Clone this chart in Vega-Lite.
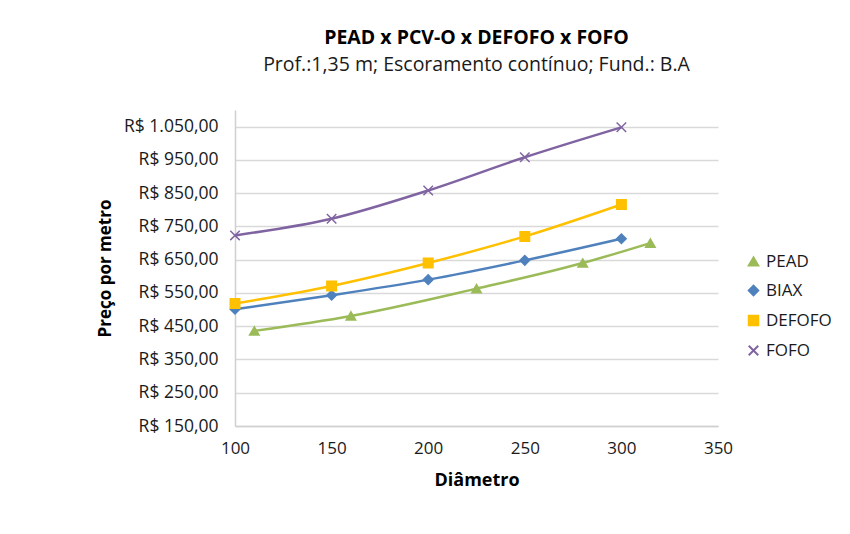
{
  "$schema": "https://vega.github.io/schema/vega-lite/v6.json",
  "autosize": {"type": "none"},
  "padding": {"left": 235, "top": 110, "right": 132, "bottom": 108},
  "width": 483,
  "height": 316,
  "background": "white",
  "config": {
    "font": "Open Sans",
    "locale": {
      "number": {"decimal": ",", "thousands": ".", "grouping": [3], "currency": ["R$ ", ""]}
    },
    "view": {"stroke": null}
  },
  "title": {
    "text": "PEAD x PCV-O x DEFOFO x FOFO",
    "subtitle": "Prof.:1,35 m; Escoramento contínuo; Fund.: B.A",
    "fontSize": 19.5,
    "fontWeight": "bold",
    "color": "#000000",
    "subtitleFontSize": 19.5,
    "subtitleColor": "#1a1a1a",
    "subtitlePadding": 7,
    "anchor": "middle",
    "offset": 35
  },
  "data": {
    "values": [
      {"serie": "PEAD", "d": 110, "preco": 436},
      {"serie": "PEAD", "d": 160, "preco": 481},
      {"serie": "PEAD", "d": 225, "preco": 563},
      {"serie": "PEAD", "d": 280, "preco": 640},
      {"serie": "PEAD", "d": 315, "preco": 700},
      {"serie": "BIAX", "d": 100, "preco": 501},
      {"serie": "BIAX", "d": 150, "preco": 543},
      {"serie": "BIAX", "d": 200, "preco": 590},
      {"serie": "BIAX", "d": 250, "preco": 648},
      {"serie": "BIAX", "d": 300, "preco": 713},
      {"serie": "DEFOFO", "d": 100, "preco": 518},
      {"serie": "DEFOFO", "d": 150, "preco": 571},
      {"serie": "DEFOFO", "d": 200, "preco": 640},
      {"serie": "DEFOFO", "d": 250, "preco": 720},
      {"serie": "DEFOFO", "d": 300, "preco": 816},
      {"serie": "FOFO", "d": 100, "preco": 723},
      {"serie": "FOFO", "d": 150, "preco": 773},
      {"serie": "FOFO", "d": 200, "preco": 858},
      {"serie": "FOFO", "d": 250, "preco": 958},
      {"serie": "FOFO", "d": 300, "preco": 1048}
    ]
  },
  "encoding": {
    "x": {
      "field": "d",
      "type": "quantitative",
      "scale": {"domain": [100, 350], "nice": false},
      "axis": {
        "title": "Diâmetro",
        "titleFontSize": 18,
        "titleFontWeight": "bold",
        "titleColor": "#000000",
        "titlePadding": 15,
        "values": [100, 150, 200, 250, 300, 350],
        "labelFontSize": 17,
        "labelColor": "#1a1a1a",
        "labelPadding": 14,
        "labelFlush": false,
        "ticks": false,
        "grid": false,
        "domainColor": "#d0d0d0",
        "domainWidth": 1.5
      }
    },
    "y": {
      "field": "preco",
      "type": "quantitative",
      "scale": {"domain": [150, 1100], "nice": false, "zero": false},
      "axis": {
        "title": "Preço por metro",
        "titleFontSize": 17,
        "titleFontWeight": "bold",
        "titleColor": "#000000",
        "titlePadding": 9,
        "values": [150, 250, 350, 450, 550, 650, 750, 850, 950, 1050],
        "format": "$,.2f",
        "labelFontSize": 17.5,
        "labelColor": "#1a1a1a",
        "labelPadding": 17,
        "ticks": false,
        "grid": true,
        "gridColor": "#d9d9d9",
        "gridWidth": 1.5,
        "domainColor": "#d0d0d0",
        "domainWidth": 1.5
      }
    },
    "color": {
      "field": "serie",
      "type": "nominal",
      "sort": ["PEAD", "BIAX", "DEFOFO", "FOFO"],
      "scale": {
        "domain": ["PEAD", "BIAX", "DEFOFO", "FOFO"],
        "range": ["#9BBB59", "#4F81BD", "#FFC000", "#8064A2"]
      },
      "legend": {
        "title": null,
        "orient": "none",
        "legendX": 510,
        "legendY": 143,
        "labelFontSize": 17,
        "labelColor": "#1a1a1a",
        "rowPadding": 11,
        "symbolSize": 90,
        "symbolStrokeWidth": 2
      }
    }
  },
  "layer": [
    {
      "mark": {"type": "line", "interpolate": "monotone", "strokeWidth": 2.5}
    },
    {
      "mark": {"type": "point", "filled": true, "size": 90, "opacity": 1, "strokeWidth": 1.5},
      "encoding": {
        "shape": {
          "field": "serie",
          "type": "nominal",
          "sort": ["PEAD", "BIAX", "DEFOFO", "FOFO"],
          "scale": {
            "domain": ["PEAD", "BIAX", "DEFOFO", "FOFO"],
            "range": ["triangle-up", "diamond", "square", "M-1,-1L1,1M-1,1L1,-1"]
          },
          "legend": {
            "title": null,
            "orient": "none",
            "legendX": 510,
            "legendY": 143,
            "labelFontSize": 17,
            "labelColor": "#1a1a1a",
            "rowPadding": 11,
            "symbolSize": 90,
            "symbolStrokeWidth": 2
          }
        },
        "stroke": {
          "field": "serie",
          "type": "nominal",
          "sort": ["PEAD", "BIAX", "DEFOFO", "FOFO"],
          "scale": {
            "domain": ["PEAD", "BIAX", "DEFOFO", "FOFO"],
            "range": ["#9BBB59", "#4F81BD", "#FFC000", "#8064A2"]
          },
          "legend": {
            "title": null,
            "orient": "none",
            "legendX": 510,
            "legendY": 143,
            "labelFontSize": 17,
            "labelColor": "#1a1a1a",
            "rowPadding": 11,
            "symbolSize": 90,
            "symbolStrokeWidth": 2
          }
        }
      }
    }
  ]
}
